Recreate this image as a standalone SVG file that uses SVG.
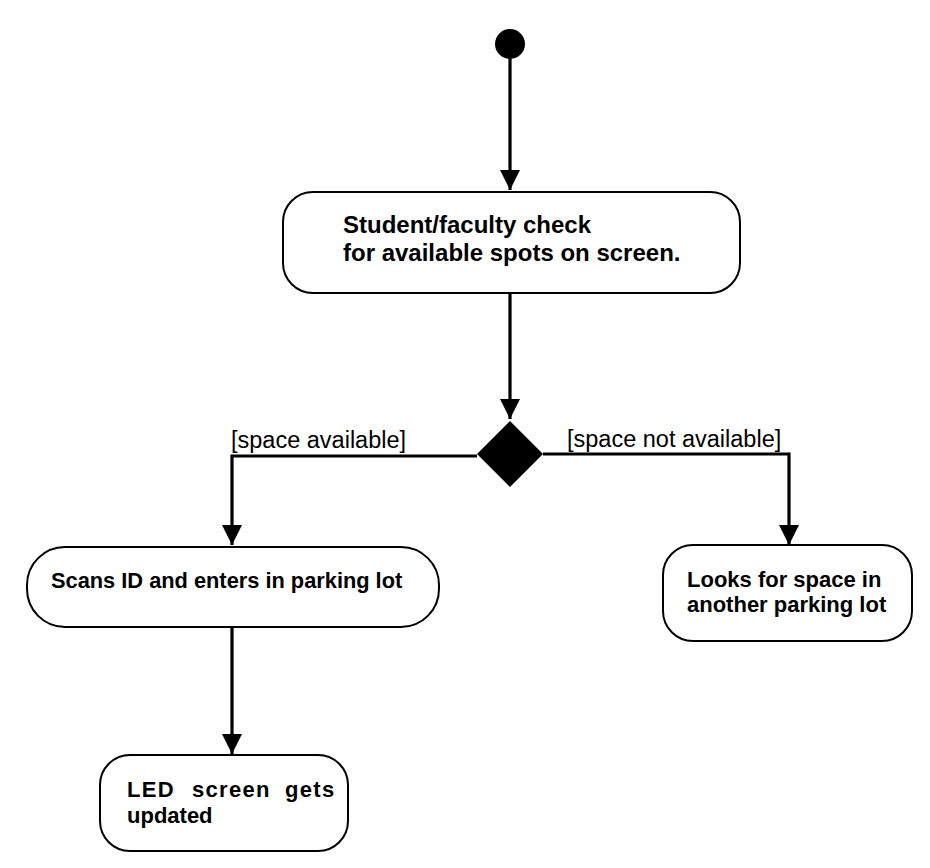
<svg xmlns="http://www.w3.org/2000/svg" width="930" height="868" viewBox="0 0 930 868">
<style>
.node{fill:#fff;stroke:#000;stroke-width:2}
.t{font-family:"Liberation Sans",Arial,Helvetica,sans-serif;font-weight:bold;fill:#000}
.lbl{font-family:"Liberation Sans",Arial,Helvetica,sans-serif;font-size:23.5px;fill:#000}
.edge{fill:none;stroke:#000;stroke-width:3.2;marker-end:url(#arr)}
</style>
<defs>
<marker id="arr" markerUnits="userSpaceOnUse" markerWidth="20" markerHeight="20" viewBox="0 0 20 20" refX="20" refY="10" orient="auto">
<path d="M0,0 L20,10 L0,20 z" fill="#000"/>
</marker>
</defs>
<rect width="930" height="868" fill="#fff"/>
<g id="connectors">
<path class="edge" d="M510,58 L510,190"/>
<path class="edge" d="M510,293 L510,419"/>
<path class="edge" d="M477,456 L232,456 L232,545"/>
<path class="edge" d="M543,454 L789,454 L789,545"/>
<path class="edge" d="M232,627 L232,754"/>
</g>
<g id="start"><circle cx="510" cy="44" r="15" fill="#000"/></g>
<g id="check">
<rect class="node" x="283" y="192" width="457" height="101" rx="30" ry="30"/>
<text class="t" font-size="24"><tspan x="343" y="233">Student/faculty check</tspan><tspan x="343" y="261">for available spots on screen.</tspan></text>
</g>
<g id="decision">
<path d="M510,421 L543,454 L510,487 L477,454 z" fill="#000"/>
</g>
<text class="lbl" x="231" y="448">[space available]</text>
<text class="lbl" x="567" y="447">[space not available]</text>
<g id="scan">
<rect class="node" x="27" y="547" width="412" height="80" rx="38" ry="38"/>
<text class="t" font-size="21.8" x="51" y="588">Scans ID and enters in parking lot</text>
</g>
<g id="another">
<rect class="node" x="663" y="545" width="249" height="96" rx="30" ry="30"/>
<text class="t" font-size="22"><tspan x="687" y="587">Looks for space in</tspan><tspan x="687" y="612">another parking lot</tspan></text>
</g>
<g id="led">
<rect class="node" x="100" y="755" width="248" height="96" rx="30" ry="30"/>
<text class="t" font-size="22" letter-spacing="1.3"><tspan x="127" y="797">LED</tspan> <tspan x="192" y="797">screen</tspan> <tspan x="285" y="797">gets</tspan><tspan x="127" y="823" letter-spacing="0">updated</tspan></text>
</g>
</svg>
